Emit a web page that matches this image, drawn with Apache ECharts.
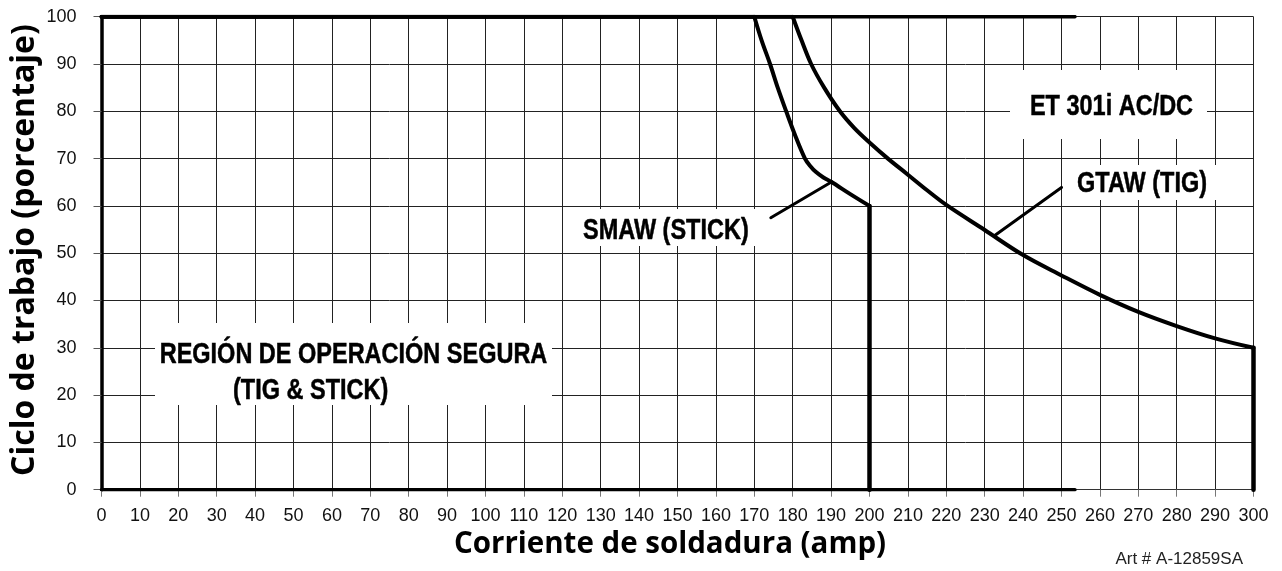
<!DOCTYPE html>
<html>
<head>
<meta charset="utf-8">
<script src="https://cdn.jsdelivr.net/npm/echarts@6/dist/echarts.min.js"></script>
<style>
html,body{margin:0;padding:0;background:#fff;}
#chart{width:1282px;height:571px;}
</style>
</head>
<body>
<div id="chart"></div>
<script>
// ---- data ----
const xTicks = [0,10,20,30,40,50,60,70,80,90,100,110,120,130,140,150,160,170,180,190,200,210,220,230,240,250,260,270,280,290,300];
const yTicks = [0,10,20,30,40,50,60,70,80,90,100];
const smawAmps = [0,170,171.9,174.1,176.1,178.3,180.6,183.2,184.5,186,188,190,195,200,200];
const smawDuty = [100,100,95,90,85,80,75,70,68.5,67.2,66,65.1,62.5,60,0];
const gtawAmps = [0,180,182.3,184.8,188.2,192.3,196,200,204.8,210,215,220,230,240,250,260,270,280,290,300,300];
const gtawDuty = [100,100,95,90,85,80,76.5,73.4,70,66.6,63.3,60.2,54.9,49.6,45.3,41.2,37.6,34.6,32,30,0];
const frameEnd = 253.5;
const frameTop = [[0,100],[frameEnd,100]];
const frameBottom = [[0,0],[frameEnd,0]];
const smawLeader = [[174.3,57.5],[190.2,65.1]];
const gtawLeader = [[232.7,53.8],[250,63.9]];

const toPairs = (xs, ys) => xs.map((x,i)=>[x, ys[i]]);
const smaw = toPairs(smawAmps, smawDuty);
const gtaw = toPairs(gtawAmps, gtawDuty);

const chart = echarts.init(document.getElementById('chart'), null, {renderer:'canvas'});

const lineSeries = (data, width, smooth) => ({
  type:'line', data, symbol:'none', animation:false, silent:true, smooth: smooth || false,
  lineStyle:{color:'#000', width, cap:'round', join:'round'}, z:5
});

const narrow = (text, x, y, align) => ({
  type:'text', x, y, z:11, scaleX:0.81, scaleY:1,
  style:{text, font:"bold 29px 'Liberation Sans',Arial,sans-serif", fill:'#000', stroke:'#000', lineWidth:0.5, align, verticalAlign:'middle'}
});

chart.setOption({
  animation:false,
  backgroundColor:'#fff',
  grid:{left:101.5, right:28.5, top:16.7, bottom:81.3, containLabel:false},
  xAxis:{
    type:'value', min:0, max:300, interval:10,
    axisLine:{show:true, lineStyle:{color:'#333', width:1}},
    axisTick:{show:true, length:7, lineStyle:{color:'#777', width:1}},
    axisLabel:{margin:17, fontSize:18, color:'#111', fontFamily:"'Liberation Sans',Arial,sans-serif",
      formatter:v=>xTicks.includes(v)?String(v):''},
    splitLine:{show:true, lineStyle:{color:'#222', width:1}}
  },
  yAxis:{
    type:'value', min:0, max:100, interval:10,
    axisLine:{show:true, lineStyle:{color:'#000', width:3.5}},
    axisTick:{show:true, length:8, lineStyle:{color:'#555', width:1}},
    axisLabel:{margin:25, fontSize:18, color:'#111', fontFamily:"'Liberation Sans',Arial,sans-serif",
      formatter:v=>yTicks.includes(v)?String(v):''},
    splitLine:{show:true, lineStyle:{color:'#222', width:1}}
  },
  series:[
    lineSeries(frameTop, 3.5),
    lineSeries(frameBottom, 3.5),
    lineSeries(smaw.slice(0,2), 4),
    lineSeries(smaw.slice(1,-1), 4, 0.35),
    lineSeries(smaw.slice(-2), 4.5),
    lineSeries(gtaw.slice(0,2), 4),
    lineSeries(gtaw.slice(1,-1), 4, 0.35),
    lineSeries(gtaw.slice(-2), 4.5),
    lineSeries(smawLeader, 3),
    lineSeries(gtawLeader, 3)
  ],
  graphic:[
    // white label boxes
    {type:'rect', shape:{x:155,y:323,width:397,height:82}, style:{fill:'#fff'}, z:10},
    {type:'rect', shape:{x:575,y:209,width:185,height:37}, style:{fill:'#fff'}, z:10},
    {type:'rect', shape:{x:1070,y:165,width:150,height:35}, style:{fill:'#fff'}, z:10},
    {type:'rect', shape:{x:1010,y:70,width:197,height:69}, style:{fill:'#fff'}, z:10},
    // annotation text
    narrow('REGIÓN DE OPERACIÓN SEGURA', 353.5, 355, 'center'),
    narrow('(TIG & STICK)', 233, 391, 'left'),
    narrow('SMAW (STICK)', 583, 231, 'left'),
    narrow('GTAW (TIG)', 1077, 184, 'left'),
    narrow('ET 301i AC/DC', 1111.5, 107, 'center'),
    // axis titles
    {type:'text', x:670, y:545, z:11, style:{text:'Corriente de soldadura (amp)', font:"bold 29.5px 'Open Sans',sans-serif", fill:'#000', align:'center', verticalAlign:'middle'}},
    {type:'text', x:25, y:250, rotation:Math.PI/2, z:11, style:{text:'Ciclo de trabajo (porcentaje)', font:"bold 32px 'Open Sans',sans-serif", fill:'#000', align:'center', verticalAlign:'middle'}},
    {type:'text', x:1243, y:559, z:11, style:{text:'Art # A-12859SA', font:"17px 'Liberation Sans',Arial,sans-serif", fill:'#222', align:'right', verticalAlign:'middle'}}
  ]
});
</script>
</body>
</html>
